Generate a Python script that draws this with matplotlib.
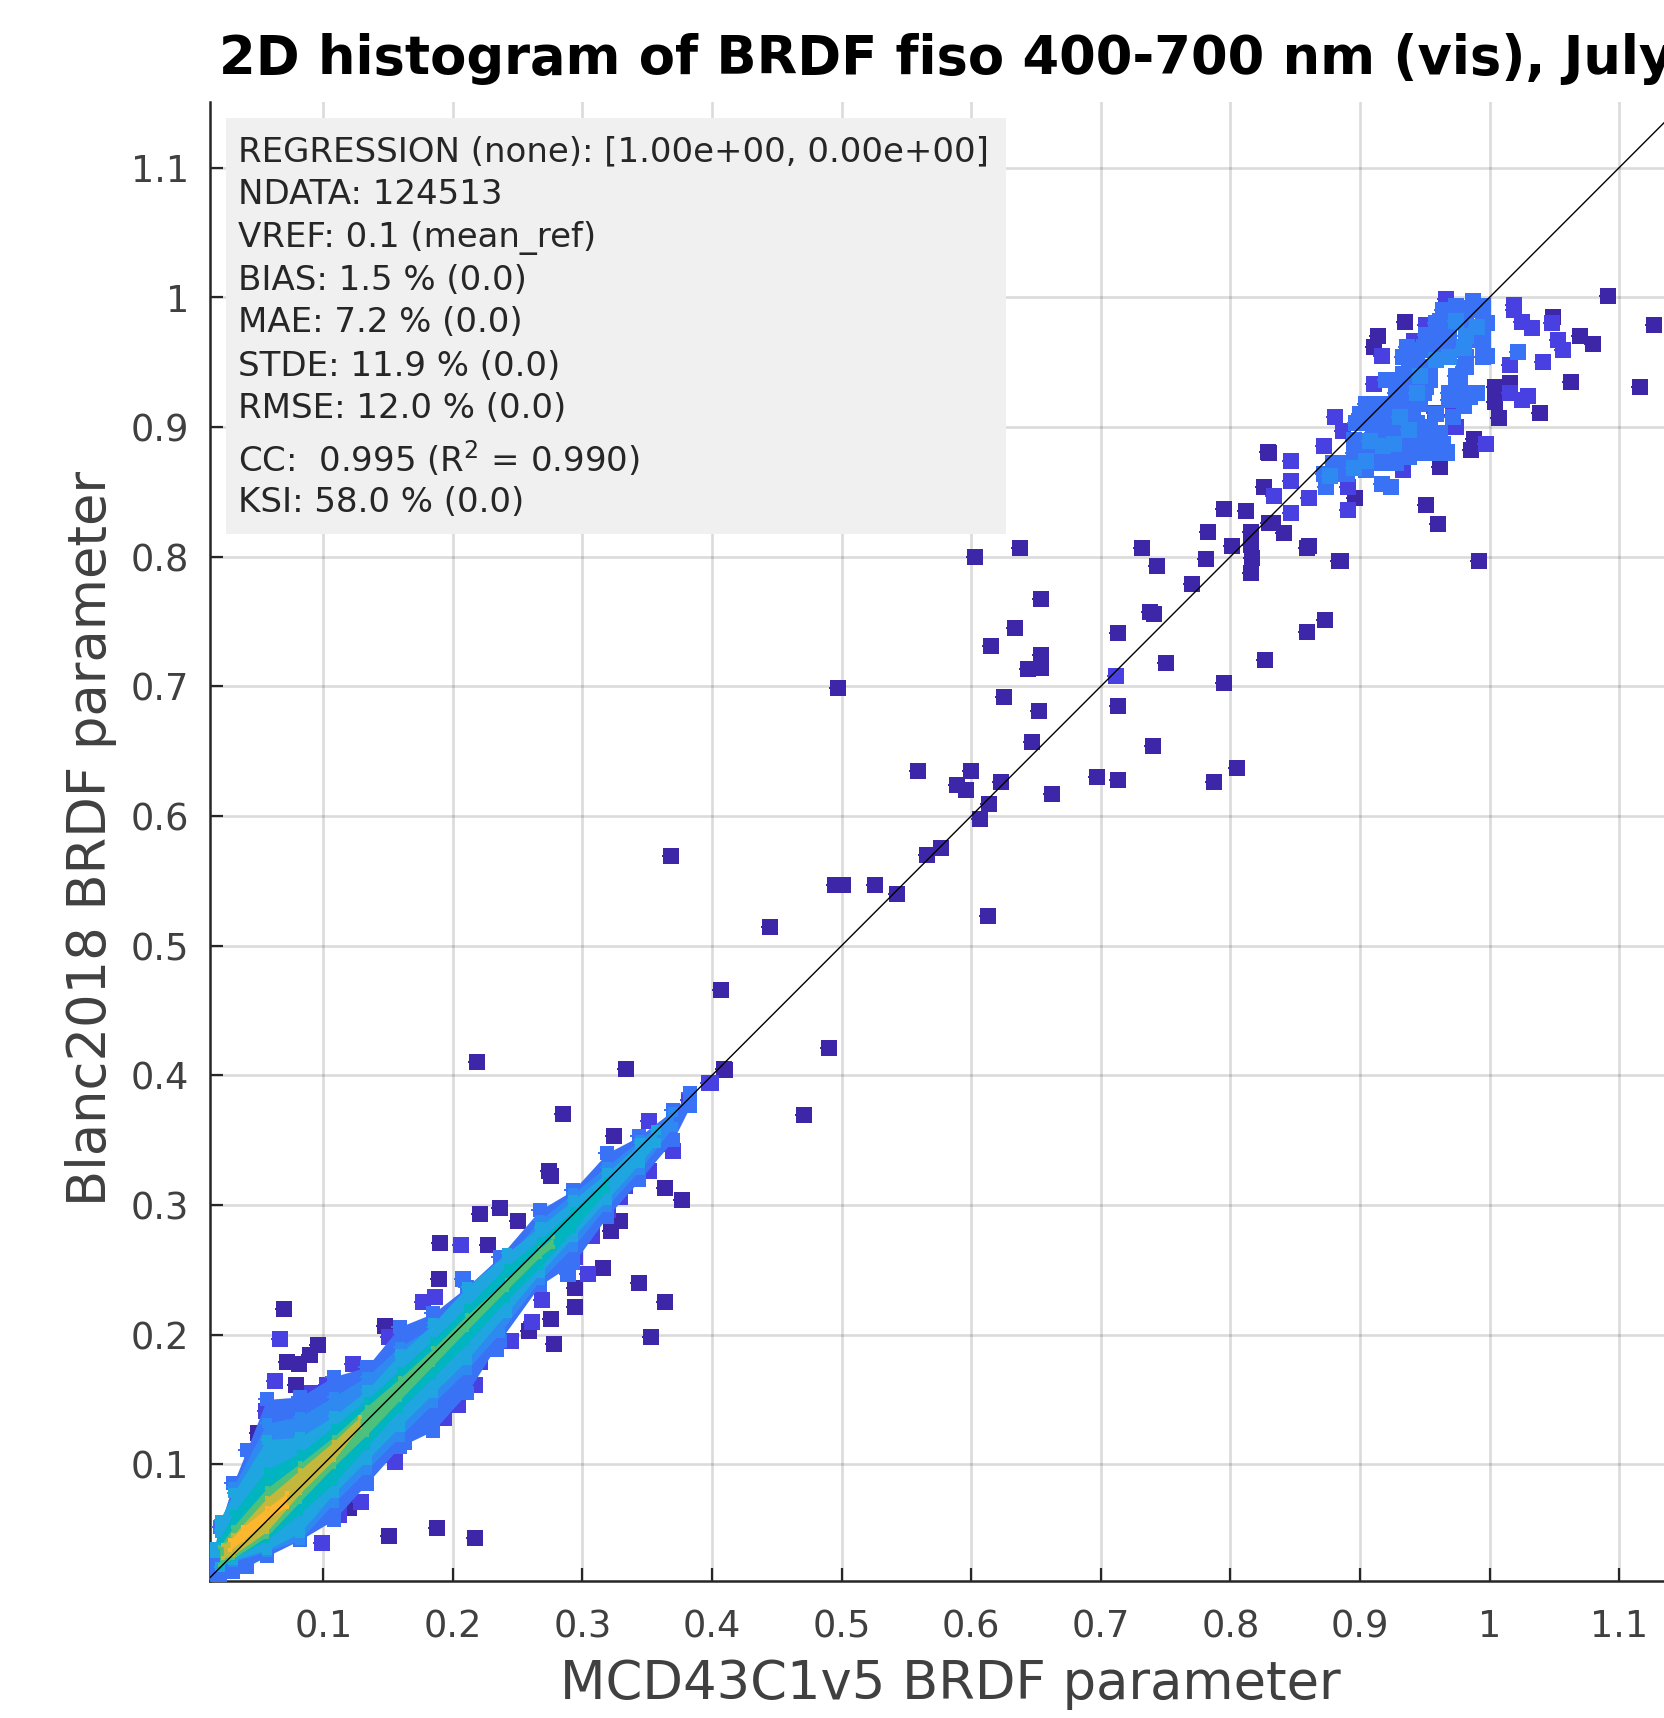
#!/usr/bin/env python3
import matplotlib
matplotlib.use('Agg')
import matplotlib.pyplot as plt
from matplotlib.path import Path
from matplotlib.patches import Rectangle

W, H = 1664, 1718

title = '2D histogram of BRDF fiso 400-700 nm (vis), July'
xlabel = 'MCD43C1v5 BRDF parameter'
ylabel = 'Blanc2018 BRDF parameter'
ticks = [0.1, 0.2, 0.3, 0.4, 0.5, 0.6, 0.7, 0.8, 0.9, 1.0, 1.1]
tick_labels = ['0.1', '0.2', '0.3', '0.4', '0.5', '0.6', '0.7', '0.8', '0.9', '1', '1.1']

stats_lines = [
    'REGRESSION (none): [1.00e+00, 0.00e+00]',
    'NDATA: 124513',
    'VREF: 0.1 (mean_ref)',
    'BIAS: 1.5 % (0.0)',
    'MAE: 7.2 % (0.0)',
    'STDE: 11.9 % (0.0)',
    'RMSE: 12.0 % (0.0)',
    'CC:  0.995 (R$^{2}$ = 0.990)',
    'KSI: 58.0 % (0.0)',
]
stats_y = [152, 195, 238, 281, 323, 366, 409, 459, 503]

# colours of the density levels (parula like)
c_dark = '#3d27a8'
c_l1 = '#4840e0'
c_blue = '#3a72f6'
c_l3 = '#2e8af0'
c_light = '#1fa5e0'
c_teal = '#00b4c0'
c_green = '#4dc07c'
c_olive = '#c4b83c'
c_orange = '#fdb72e'

# dense ridge, envelope of each density level
blue_x = [.0126, .020, .0306, .041, .0563, .082, .108, .1335, .159, .185, .211, .236, .267, .293, .319, .344, .37, .383]
blue_lo = [.0134, .0134, .017, .021, .029, .0416, .057, .085, .1136, .126, .155, .195, .238, .255, .291, .319, .350, .376]
blue_hi = [.0237, .052, .0854, .111, .15, .152, .1676, .175, .206, .2165, .237, .26, .296, .3115, .340, .353, .373, .386]

mid_x = [.0306, .0563, .082, .108, .1335, .159, .185, .211, .236, .2672, .2929, .3186, .3443, .370]
mid_lo = [.0249, .0327, .0417, .0699, .0956, .1213, .1471, .1728, .201, .2421, .2678, .2987, .3270, .3604]
mid_hi = [.0828, .1316, .1368, .1522, .1676, .1908, .2062, .2267, .2524, .2884, .309, .3295, .3501, .3719]

light_x = [.020, .0306, .0563, .082, .108, .1335, .159, .185, .211, .2414, .2672, .2929, .3186, .3443, .357]
light_lo = [.021, .026, .034, .047, .0775, .103, .1291, .1548, .1805, .2164, .2473, .2755, .3038, .3321, .3475]
light_hi = [.057, .0777, .119, .121, .137, .157, .185, .2087, .237, .2627, .2833, .3038, .3244, .3475, .3578]

teal_x = [.020, .0306, .0563, .082, .108, .1335, .159, .185, .211, .2414, .2672, .2929, .3186]
teal_lo = [.021, .0275, .0417, .0622, .0853, .1136, .1419, .1676, .1933, .2267, .2524, .2807, .3115]
teal_hi = [.0417, .0622, .0956, .1085, .129, .1496, .1728, .196, .2216, .2524, .273, .2961, .3192]

green_x = [.020, .0306, .0563, .082, .108, .1335, .159, .185, .211, .2414, .2672, .2774]
green_lo = [.0224, .0275, .0442, .0712, .0982, .1226, .1496, .1766, .2036, .2344, .2601, .2679]
green_hi = [.0365, .052, .0815, .1008, .1213, .1445, .1663, .1895, .2152, .2421, .2666, .2755]

olive_x = [.0229, .0306, .0563, .082, .108, .1284]
olive_lo = [.0275, .0301, .0481, .0776, .1034, .1291]
olive_hi = [.0378, .0455, .0738, .0956, .1175, .1368]

orange_x = [.0280, .0383, .0563, .0718]
orange_lo = [.0339, .0416, .0571, .0674]
orange_hi = [.0416, .0519, .0661, .0776]

# single bins, one list per density level
dark_pts = [
    (1.091, 1.001), (1.127, .979), (1.116, .931), (1.063, .935), (1.070, .970), (1.080, .964),
    (1.049, .985), (1.041, .950), (1.039, .911), (1.016, .934), (1.004, .931), (1.004, .919),
    (1.007, .907), (.962, .869), (.951, .840), (.960, .825), (.992, .797), (.885, .797),
    (.861, .808), (.841, .818), (.830, .826), (.896, .845), (.826, .854), (.830, .880),
    (.914, .970), (.911, .962), (.935, .981), (.988, .891), (.986, .882),
    (.603, .800), (.638, .8065), (.6535, .767), (.634, .745), (.6155, .731), (.6535, .7245),
    (.6535, .714), (.6435, .7135), (.625, .692), (.652, .681), (.647, .657), (.600, .635),
    (.559, .635), (.589, .624), (.596, .620), (.623, .626), (.614, .609), (.662, .617),
    (.607, .598), (.577, .575), (.566, .570), (.543, .540), (.526, .547), (.501, .547),
    (.495, .547), (.497, .699), (.613, .5225), (.445, .514), (.368, .569), (.407, .466),
    (.409, .405), (.490, .421), (.471, .369), (.732, .8065), (.743, .793), (.770, .779),
    (.781, .798), (.783, .819), (.795, .837), (.812, .835), (.801, .808), (.817, .799),
    (.816, .819), (.816, .809), (.816, .787), (.833, .826), (.829, .881), (.841, .818),
    (.859, .807), (.884, .797), (.738, .757), (.741, .756), (.713, .741), (.750, .718),
    (.713, .685), (.795, .7025), (.827, .720), (.859, .742), (.873, .751), (.740, .654),
    (.713, .628), (.697, .630), (.787, .6265), (.805, .637),
    (.070, .220), (.096, .192), (.090, .184), (.081, .177), (.072, .179), (.079, .161),
    (.050, .124), (.148, .207), (.189, .243), (.151, .045), (.188, .051), (.217, .043),
    (.120, .066), (.219, .410), (.3335, .405), (.410, .404), (.285, .370), (.3245, .353),
    (.274, .326), (.276, .322), (.364, .313), (.377, .304), (.329, .288), (.322, .280),
    (.236, .298), (.221, .293), (.250, .288), (.2275, .269), (.19, .271), (.3155, .251),
    (.344, .240), (.294, .236), (.294, .221), (.364, .225), (.276, .212), (.259, .203),
    (.353, .198), (.278, .193),
]
l1_pts = [
    (1.048, .980), (1.041, .950), (1.030, .924), (1.025, .921), (1.016, .926), (.997, .887),
    (.974, .900), (.972, .909), (.958, .911), (.891, .836), (.891, .854), (.861, .845),
    (.847, .834), (.834, .847), (.847, .858), (.847, .874), (.872, .885), (.881, .908),
    (.887, .897), (.911, .933), (.917, .955), (.951, .979), (.966, .999), (.942, .966),
    (1.019, .994), (1.019, .990), (1.025, .981), (1.033, .976), (1.053, .967), (1.057, .959),
    (1.016, .948), (.933, .867), (.712, .708), (.398, .394),
    (.0666, .1964), (.123, .177), (.063, .164), (.0916, .155), (.103, .161), (.056, .141),
    (.151, .198), (.186, .229), (.177, .225), (.099, .039), (.129, .071), (.112, .061),
    (.155, .102), (.193, .136), (.204, .146), (.217, .161), (.221, .179), (.245, .195),
    (.399, .394), (.351, .365), (.382, .381), (.370, .342), (.351, .326), (.333, .315),
    (.329, .306), (.320, .296), (.307, .286), (.307, .276), (.206, .269), (.294, .260),
    (.304, .247), (.269, .227), (.261, .210),
]
blue_pts = [
    (.874, .854), (.882, .864), (.897, .872), (.905, .867), (.913, .874), (.928, .874),
    (.938, .877), (.954, .882), (.967, .881), (.895, .890), (.910, .890), (.926, .889),
    (.941, .890), (.959, .890), (.931, .903), (.944, .903), (.918, .903), (.902, .908),
    (.918, .913), (.928, .918), (.941, .921), (.951, .931), (.938, .934), (.954, .941),
    (.926, .936), (.933, .941), (.944, .952), (.954, .959), (.967, .964), (.951, .971),
    (.962, .982), (.974, .993), (.987, .997), (.995, .993), (.998, .980), (.992, .967),
    (.982, .954), (.998, .955), (.980, .946), (.974, .939), (.974, .928), (.985, .923),
    (.969, .921), (.980, .916), (.938, .959), (.972, .908), (.959, .910), (.954, .900),
    (1.022, .958), (.924, .854), (.917, .856), (.046, .106), (.208, .243), (.233, .189),
    (.162, .117), (.289, .247), (.023, .019),
    (.872, .864), (.879, .864), (.890, .864),
    (.879, .872), (.890, .872), (.900, .872), (.910, .872), (.918, .872), (.928, .872),
    (.895, .880), (.905, .880), (.915, .880), (.926, .880), (.936, .880), (.946, .880), (.956, .880), (.967, .880),
    (.902, .887), (.913, .887), (.923, .887), (.933, .887), (.944, .887), (.954, .887), (.964, .887),
    (.910, .895), (.920, .895), (.931, .895), (.941, .895), (.951, .895), (.962, .895),
    (.897, .903), (.908, .903), (.920, .903), (.933, .903), (.944, .903),
    (.900, .910), (.910, .910), (.920, .910), (.931, .910), (.941, .910),
    (.905, .918), (.915, .918), (.926, .918), (.938, .918), (.946, .918),
    (.928, .926), (.938, .926), (.949, .926), (.969, .926), (.980, .926), (.990, .926),
    (.920, .936), (.931, .936), (.944, .936), (.954, .936), (.977, .936),
    (.938, .946), (.949, .946), (.982, .946),
    (.933, .954), (.944, .954), (.959, .954), (.969, .954), (.982, .954), (.995, .954),
    (.936, .962), (.949, .962), (.959, .962), (.969, .962), (.980, .962), (.995, .962),
    (.956, .970), (.969, .970), (.982, .970), (.995, .970),
    (.959, .980), (.969, .980), (.982, .980), (.995, .980),
    (.964, .990), (.974, .990), (.985, .990), (.995, .990),
]
l3_pts = [
    (.974, .982), (.982, .970), (.969, .954), (.980, .961), (.990, .977), (.959, .952),
    (.946, .939), (.908, .889), (.918, .885), (.905, .874), (.895, .868), (.926, .887),
    (.938, .898), (.944, .926), (.931, .908), (.877, .862),
]
light_pts = [(.023, .049), (.0147, .034)]


def bin_marker():
    # square bin with the small nib on its left side
    verts = [(-.5, -.5), (.5, -.5), (.5, .5), (-.5, .5), (-.5, .06), (-.62, .06),
             (-.62, -.06), (-.5, -.06), (-.5, -.5)]
    return Path(verts, closed=True)


def draw_band(ax, x, lo, hi, color, size, zorder):
    ax.fill_between(x, lo, hi, color=color, linewidth=0, zorder=zorder)
    ax.scatter(x, lo, s=size, marker=bin_marker(), c=color, linewidths=0, zorder=zorder)
    ax.scatter(x, hi, s=size, marker=bin_marker(), c=color, linewidths=0, zorder=zorder)


def draw_bins(ax, pts, color, zorder):
    xs = [p[0] for p in pts]
    ys = [p[1] for p in pts]
    ax.scatter(xs, ys, s=180, marker=bin_marker(), c=color, linewidths=0, zorder=zorder)


fig = plt.figure(figsize=(W / 100, H / 100), dpi=100)
# the axes run past the right edge of the picture, as in the original crop
ax = fig.add_axes([210 / W, (H - 1581) / H, 1474 / W, 1479 / H])
ax.set_xlim(0.0126, 1.15)
ax.set_ylim(0.01, 1.1506)

draw_bins(ax, dark_pts, c_dark, 3)
draw_bins(ax, l1_pts, c_l1, 4)
draw_bins(ax, blue_pts, c_blue, 5)
draw_bins(ax, l3_pts, c_l3, 6)
draw_band(ax, blue_x, blue_lo, blue_hi, c_blue, 150, 7)
draw_band(ax, mid_x, mid_lo, mid_hi, c_l3, 90, 8)
draw_band(ax, light_x, light_lo, light_hi, c_light, 65, 9)
draw_bins(ax, light_pts, c_light, 9)
draw_band(ax, teal_x, teal_lo, teal_hi, c_teal, 37, 10)
draw_band(ax, green_x, green_lo, green_hi, c_green, 18, 11)
draw_band(ax, olive_x, olive_lo, olive_hi, c_olive, 11, 12)
draw_band(ax, orange_x, orange_lo, orange_hi, c_orange, 9, 13)

ax.plot([0.0126, 1.15], [0.0126, 1.15], color='black', linewidth=1.0, zorder=14)

ax.set_xticks(ticks)
ax.set_xticklabels(tick_labels)
ax.set_yticks(ticks)
ax.set_yticklabels(tick_labels)
ax.tick_params(direction='in', length=9.5, width=1.6, color='#262626', labelcolor='#404040',
               labelsize=26.5)
ax.tick_params(axis='x', pad=19.5)
ax.tick_params(axis='y', pad=15)
ax.grid(True, color='black', alpha=0.14, linewidth=1.9, zorder=1)
ax.set_axisbelow(True)
for side in ['top', 'right']:
    ax.spines[side].set_visible(False)
for side in ['left', 'bottom']:
    ax.spines[side].set_linewidth(1.8)
    ax.spines[side].set_color('#262626')

ax.set_xlabel(xlabel, fontsize=38, color='#404040', va='center')
ax.set_ylabel(ylabel, fontsize=38, color='#404040', va='center')
ax.xaxis.set_label_coords(0.502, -0.0695)
ax.yaxis.set_label_coords(-0.0805, 0.502)

fig.text(219 / W, 1 - 74 / H, title, fontsize=38, fontweight='bold', color='black', va='baseline')

# statistics box
fig.add_artist(Rectangle((226 / W, 1 - 534 / H), 780 / W, 416 / H, transform=fig.transFigure,
                         facecolor='#f0f0f0', edgecolor='none', zorder=20))
plt.rcParams['mathtext.default'] = 'regular'
for line, y in zip(stats_lines, stats_y):
    fig.text(238 / W, 1 - y / H, line, fontsize=24.5, color='#262626', va='center', zorder=21)

fig.savefig('out.png', dpi=100)
